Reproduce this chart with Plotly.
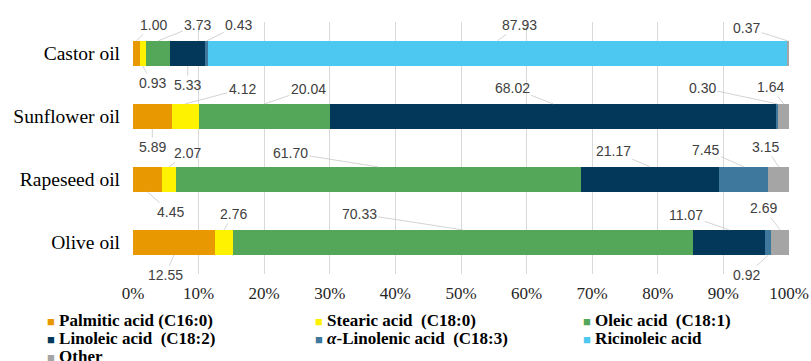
import numpy as np
import plotly.graph_objects as go

# Fatty-acid composition (%) of four vegetable oils
oils = ["Castor oil", "Sunflower oil", "Rapeseed oil", "Olive oil"]

palmitic = [1.00, 5.89, 4.45, 12.55]
stearic = [0.93, 4.12, 2.07, 2.76]
oleic = [3.73, 20.04, 61.70, 70.33]
linoleic = [5.33, 68.02, 21.17, 11.07]
linolenic = [0.43, 0.30, 7.45, 0.92]
ricinoleic = [87.93, 0.0, 0.0, 0.0]
other = [0.37, 1.64, 3.15, 2.69]

series_names = [
    "Palmitic acid (C16:0)",
    "Stearic acid\u00a0 (C18:0)",
    "Oleic acid\u00a0 (C18:1)",
    "Linoleic acid\u00a0 (C18:2)",
    "<i>\u03b1</i>-Linolenic acid\u00a0 (C18:3)",
    "Ricinoleic acid",
    "Other",
]
series_values = [palmitic, stearic, oleic, linoleic, linolenic, ricinoleic, other]
series_colors = ["#E89800", "#FFF200", "#54A758", "#03385A", "#3E789D", "#4DC8F0", "#A5A5A5"]

tick_values = [0, 10, 20, 30, 40, 50, 60, 70, 80, 90, 100]
tick_labels = ["0%", "10%", "20%", "30%", "40%", "50%", "60%", "70%", "80%", "90%", "100%"]

# callout offsets (px) from the bar edge for each value label, per oil, per series
label_offsets = [
    [(17, -16), (10, 17), (40, -16), (0, 19), (32, -16), (22, -16), (-41, -13)],
    [(0, 18), (57, -15), (44, -15), (-41, -16), (-75, -16), None, (-13, -17)],
    [(23, 20), (19, -14), (-88, -14), (-37, -16), (-38, -17), None, (-13, -20)],
    [(-9, 20), (9, -16), (-104, -16), (-43, -15), (-22, 20), None, (-17, -22)],
]

W, H = 811, 361
ML, MR, MT, MB = 133, 22, 22, 87
SERIF = "Liberation Serif, Times New Roman, Times, DejaVu Serif, serif"
SANS = "Liberation Sans, Arial, sans-serif"
BAR_HALF = 0.2

fig = go.Figure()
for name, vals, col in zip(series_names, series_values, series_colors):
    fig.add_trace(go.Bar(
        y=oils, x=vals, name=name, orientation="h",
        marker=dict(color=col, line=dict(width=0)),
        width=2 * BAR_HALF, showlegend=False,
    ))

# value callouts with leader lines
vals = np.array(series_values)  # shape (series, oils)
totals = vals.sum(axis=0)
norm = vals / totals * 100.0
starts = np.cumsum(norm, axis=0) - norm
annotations = []
for i in range(len(oils)):
    for j in range(len(series_names)):
        v = vals[j, i]
        off = label_offsets[i][j]
        if v <= 0 or off is None:
            continue
        ax, ay = off
        center = starts[j, i] + norm[j, i] / 2
        edge = i - BAR_HALF if ay < 0 else i + BAR_HALF
        annotations.append(dict(
            x=center, y=edge, xref="x", yref="y",
            text=f"{v:.2f}", showarrow=True, arrowhead=0, arrowwidth=0.8,
            arrowcolor="#C8C8C8", ax=ax, ay=ay, standoff=0,
            font=dict(family=SANS, size=14, color="#404040"),
        ))

# legend laid out in three columns below the axis
plot_w = W - ML - MR
plot_h = H - MT - MB
col_px = [45, 313, 581]
row_px = [320, 338, 356]
legend_slots = [(0, 0), (1, 0), (2, 0), (0, 1), (1, 1), (2, 1), (0, 2)]
for (c, r), name, col in zip(legend_slots, series_names, series_colors):
    annotations.append(dict(
        x=(col_px[c] - ML) / plot_w, y=(H - MB - row_px[r]) / plot_h,
        xref="paper", yref="paper", xanchor="left", yanchor="middle",
        showarrow=False,
        text=f'<span style="color:{col};font-size:13px">\u25a0</span> <b>{name}</b>',
        font=dict(family=SERIF, size=17, color="#000000"),
    ))

fig.update_layout(
    width=W, height=H,
    margin=dict(l=ML, r=MR, t=MT, b=MB, autoexpand=False),
    barmode="stack", barnorm="percent",
    plot_bgcolor="white", paper_bgcolor="white",
    annotations=annotations,
    showlegend=False,
)
fig.update_xaxes(
    range=[0, 100], tickvals=tick_values, ticktext=tick_labels,
    showgrid=True, gridcolor="#D9D9D9", gridwidth=1,
    zeroline=False, showline=False, ticks="", automargin=False,
    tickfont=dict(family=SERIF, size=17, color="#262626"),
    ticklabelstandoff=7,
)
fig.update_yaxes(
    categoryorder="array", categoryarray=oils, autorange="reversed",
    showgrid=False, zeroline=False, showline=False, ticks="", automargin=False,
    tickfont=dict(family=SERIF, size=19.5, color="#000000"),
    ticklabelstandoff=12,
)

fig.write_html("out.html")
